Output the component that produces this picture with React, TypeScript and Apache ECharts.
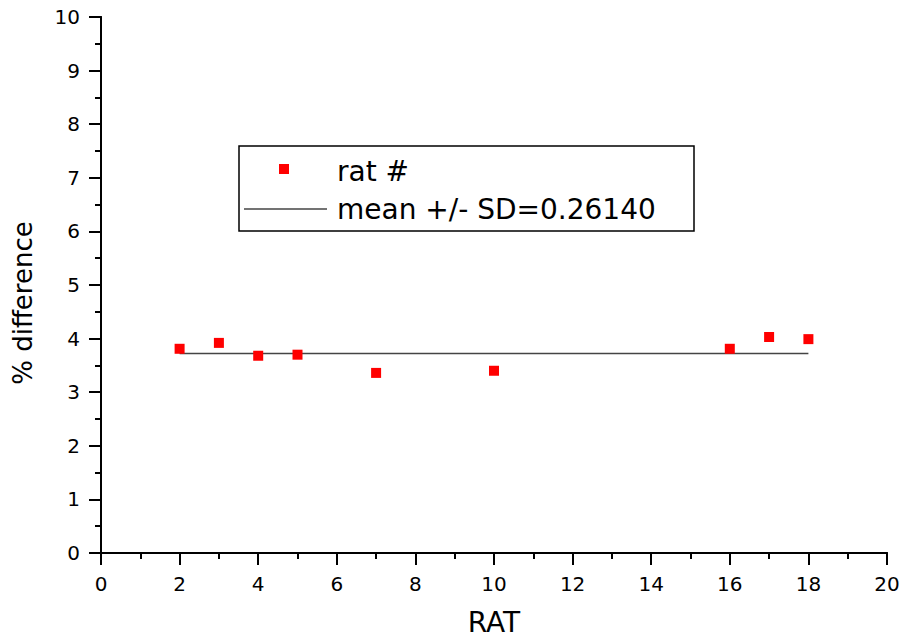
import React, { useEffect, useRef } from "react";
import * as echarts from "echarts";

const ratIds = [2, 3, 4, 5, 7, 10, 16, 17, 18];
const pctDiff = [3.81, 3.92, 3.68, 3.7, 3.36, 3.4, 3.81, 4.03, 3.99];
const meanX = [2, 18];
const meanValue = 3.72;
const seriesNames = ["rat #", "mean +/- SD=0.26140"];
const axisTitles = { x: "RAT", y: "% difference" };

const FONT = "DejaVu Sans";

export default function App() {
  const ref = useRef<HTMLDivElement>(null);
  useEffect(() => {
    document.body.style.margin = "0";
    if (!ref.current) return;
    const chart = echarts.init(ref.current, undefined, { renderer: "svg" });
    const axisLine = { show: true, lineStyle: { color: "#000", width: 2 } };
    const baseX = {
      type: "value" as const,
      min: 0,
      max: 20,
      interval: 2,
      splitLine: { show: false },
      minorSplitLine: { show: false },
      axisLine,
    };
    const baseY = {
      type: "value" as const,
      min: 0,
      max: 10,
      interval: 1,
      splitLine: { show: false },
      minorSplitLine: { show: false },
      axisLine,
    };
    const labelStyle = { color: "#000", fontSize: 20, fontFamily: FONT };
    chart.setOption({
      animation: false,
      backgroundColor: "#fff",
      grid: { left: 101, right: 18, top: 17, bottom: 84, containLabel: false, outerBoundsMode: "none" },
      xAxis: [
        {
          ...baseX,
          position: "bottom",
          axisTick: { show: true, inside: false, length: 12, lineStyle: { color: "#000", width: 2 } },
          minorTick: { show: true, splitNumber: 2, length: 6, lineStyle: { color: "#000", width: 2 } },
          axisLabel: { ...labelStyle, margin: 21 },
          name: axisTitles.x,
          nameLocation: "middle",
          nameGap: 55,
          nameTextStyle: { color: "#000", fontSize: 28, lineHeight: 28, fontFamily: FONT },
        },
        {
          ...baseX,
          position: "top",
          axisTick: { show: true, inside: true, length: 11, lineStyle: { color: "#000", width: 2 } },
          minorTick: { show: true, splitNumber: 2, length: 6, lineStyle: { color: "#000", width: 2 } },
          axisLabel: { show: false },
        },
      ],
      yAxis: [
        {
          ...baseY,
          position: "left",
          axisTick: { show: true, inside: false, length: 12, lineStyle: { color: "#000", width: 2 } },
          minorTick: { show: true, splitNumber: 2, length: 6, lineStyle: { color: "#000", width: 2 } },
          axisLabel: { ...labelStyle, margin: 21 },
          name: axisTitles.y,
          nameLocation: "middle",
          nameRotate: 90,
          nameGap: 65,
          nameTextStyle: { color: "#000", fontSize: 26, fontFamily: FONT, padding: [0, 36, 0, 0] },
        },
        {
          ...baseY,
          position: "right",
          axisTick: { show: true, inside: true, length: 11, lineStyle: { color: "#000", width: 2 } },
          minorTick: { show: true, splitNumber: 2, length: 6, lineStyle: { color: "#000", width: 2 } },
          axisLabel: { show: false },
        },
      ],
      series: [
        {
          name: seriesNames[1],
          type: "line",
          xAxisIndex: 0,
          yAxisIndex: 0,
          data: meanX.map((x) => [x, meanValue]),
          showSymbol: false,
          symbol: "none",
          lineStyle: { color: "#444", width: 1.5 },
          z: 2,
        },
        {
          name: seriesNames[0],
          type: "scatter",
          xAxisIndex: 0,
          yAxisIndex: 0,
          data: ratIds.map((x, i) => [x, pctDiff[i]]),
          symbol: "rect",
          symbolSize: 10,
          itemStyle: { color: "#ff0000", opacity: 1 },
          z: 3,
        },
      ],
      graphic: [
        {
          type: "rect",
          shape: { x: 239, y: 146, width: 455, height: 85 },
          style: { fill: "#fff", stroke: "#000", lineWidth: 1.5 },
          z: 10,
        },
        {
          type: "rect",
          shape: { x: 279, y: 164, width: 10, height: 10 },
          style: { fill: "#ff0000" },
          z: 11,
        },
        {
          type: "text",
          x: 337,
          y: 171,
          style: { text: seriesNames[0], fill: "#000", fontSize: 28, fontFamily: FONT, verticalAlign: "middle", align: "left" },
          z: 11,
        },
        {
          type: "line",
          shape: { x1: 244, y1: 209, x2: 327, y2: 209 },
          style: { stroke: "#444", lineWidth: 1.5 },
          z: 11,
        },
        {
          type: "text",
          x: 337,
          y: 209,
          style: { text: seriesNames[1], fill: "#000", fontSize: 28, fontFamily: FONT, verticalAlign: "middle", align: "left" },
          z: 11,
        },
      ],
    });
    return () => chart.dispose();
  }, []);
  return <div ref={ref} style={{ width: 905, height: 637 }} />;
}
